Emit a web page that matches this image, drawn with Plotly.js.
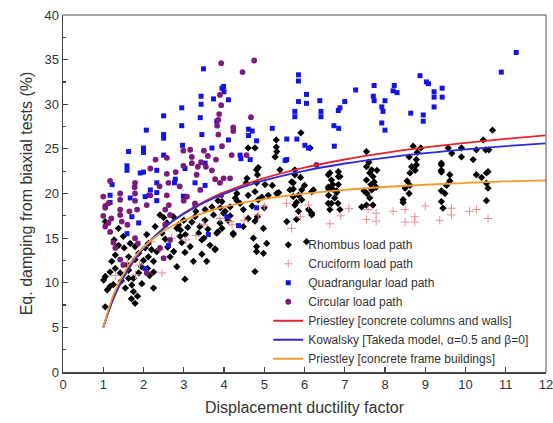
<!DOCTYPE html>
<html>
<head>
<meta charset="utf-8">
<script src="https://cdn.plot.ly/plotly-3.0.1.min.js"></script>
<style>html,body{margin:0;padding:0;background:#fff;}#chart{width:553px;height:423px;}</style>
</head>
<body>
<div id="chart"></div>
<script>
// Rhombus load path (black diamonds): ductility, damping (%)
const rhombusX = [1.05,1.38,2.41,2.58,2.29,2.08,2.12,2.04,2.2,2.33,2.12,2.25,2.25,2.25,1.88,1.79,1.63,1.52,1.38,1.27,1.3,1.21,1.3,1.42,1.01,1.17,1.63,1.63,1.71,1.75,1.79,1.05,1.88,1.96,1.75,2.83,3.03,3.24,3.57,3.78,2.87,2.92,2.91,3.04,3.16,3.03,3.37,3.45,3.53,3.74,3.9,3.53,3.28,2.83,2.74,2.46,2.54,2.66,1.79,1.67,1.5,1.6,1.17,1.05,
1.1,1.25,1.45,1.55,1.85,1.7,2.0,2.1,2.15,1.95,2.6,2.75,2.95,3.1,3.2,3.4,3.6,3.0,2.5,3.7,3.85,3.3,3.65,3.45,
4.81,4.83,4.57,4.55,4.81,4.77,5.02,5.31,5.1,4.94,4.85,4.32,4.28,4.4,3.95,3.91,4.03,4.48,4.6,4.83,4.98,4.23,3.95,3.85,4.73,4.81,4.81,4.77,3.78,4.98,5.06,4.77,3.82,3.5,4.23,4.48,4.15,3.99,4.15,4.32,4.77,4.6,4.85,4.1,4.6,4.7,5.0,5.2,5.36,5.27,5.3,5.3,5.31,5.39,
5.64,5.72,5.72,5.76,5.85,6.18,6.1,5.56,6.05,5.76,5.76,6.22,5.91,6.14,5.68,5.72,5.93,6.18,5.85,5.93,5.8,6.18,5.9,6.0,5.8,
6.59,6.6,6.6,6.63,6.7,6.67,6.63,6.67,6.59,6.7,6.8,6.59,6.83,6.88,6.84,6.8,6.88,6.75,6.84,6.84,
7.54,7.54,7.62,7.7,7.54,7.65,7.78,7.55,7.62,7.54,7.7,7.67,7.73,7.67,7.42,7.48,7.8,7.6,
8.7,8.89,8.6,8.78,8.78,8.62,8.55,8.62,8.6,8.45,8.66,8.5,8.45,8.75,8.8,
9.57,9.66,9.9,9.9,9.4,9.4,9.61,9.61,9.53,9.49,9.4,9.4,9.44,9.4,9.4,
10.19,10.27,10.44,10.67,10.5,10.58,10.27,10.52,10.52,10.52,10.56,10.56,10.4];
const rhombusY = [16.85,16.1,17.6,16.7,16.3,15.4,14.4,13.9,13.7,13.5,12.9,12.4,11.2,9.4,13.3,12.6,12.9,13.9,14.2,14.8,13.1,12.4,11.6,11.1,10.3,9.6,11.4,10.5,9.75,9.0,7.7,7.3,11.1,9.9,10.5,11.8,10.4,12.4,12.4,13.7,16.5,15.9,15.2,15.4,14.05,13.4,15.55,14.8,17.0,17.6,16.7,18.2,17.4,16.1,17.4,15.55,14.9,12.9,14.05,14.4,15.2,12.0,11.2,10.7,
9.2,9.8,10.2,9.4,8.5,8.2,12.5,11.6,10.8,11.8,14.0,13.5,14.5,16.2,16.8,16.3,16.0,17.0,17.3,18.5,19.2,18.0,14.2,13.2,
22.65,22.1,21.7,21.2,21.2,20.2,21.0,20.0,19.8,19.6,19.3,20.0,19.5,18.9,19.1,18.4,18.0,18.2,17.2,17.4,16.1,15.4,16.1,15.7,15.0,14.05,13.5,11.25,13.8,13.3,14.4,16.9,15.55,15.0,15.55,16.3,17.5,17.8,18.5,19.2,25.1,25.1,22.9,17.0,19.8,18.6,18.4,20.9,20.1,24.1,26.0,25.2,24.7,22.65,
20.4,21.2,19.65,18.7,18.0,17.8,18.2,16.85,14.6,22.65,22.1,20.4,26.8,25.1,21.3,20.5,20.4,20.2,19.8,19.3,17.1,17.6,21.8,20.9,19.0,
22.1,20.5,19.8,18.2,21.0,18.9,22.3,21.5,20.7,20.5,20.1,18.9,18.9,21.9,21.0,20.3,18.2,19.5,22.45,21.9,
24.7,23.0,22.3,21.9,21.5,21.0,20.7,20.0,19.5,18.7,18.7,22.65,21.3,20.4,18.5,20.3,22.6,23.5,
25.3,25.1,24.1,23.8,23.2,22.3,21.4,20.9,20.0,19.3,23.0,20.6,19.0,22.6,24.6,
25.1,24.5,25.1,24.1,23.2,22.4,22.1,21.4,20.9,20.0,19.1,20.3,18.35,23.4,22.6,
23.8,24.9,26.0,27.1,24.9,24.9,22.1,22.3,21.15,19.2,22.45,20.6,21.8];

// Cruciform load path (pink crosses)
const cruciformX = [7.58,7.78,7.54,7.78,8.5,8.5,8.74,8.74,9.36,9.65,9.65,10.27,10.56,6.63,5.68,4.85,4.15,2.41,3.3,4.2,3.05,2.46,1.6,1.9,2.2,2.7,3.5,3.9,4.5,5.0,5.55,5.9,6.1,6.9,7.1,8.2,9.0,10.1,1.3,1.8];
const cruciformY = [18.2,17.8,17.1,16.9,18.2,16.8,17.4,16.8,17.0,18.35,17.6,18.2,17.2,16.6,16.1,17.6,16.85,13.7,15.3,16.5,14.8,11.1,12.3,12.0,14.6,15.0,16.5,17.2,17.0,18.6,18.9,17.4,18.7,17.5,18.3,18.0,18.6,18.0,10.8,10.9];

// Quadrangular load path (blue squares)
const quadX = [3.49,3.95,3.74,3.43,3.43,2.95,3.41,2.5,2.95,2.07,2.5,2.5,3.45,2.97,3.7,1.63,2.0,2.0,2.5,1.59,1.59,1.92,2.0,2.33,2.79,2.77,2.33,3.03,3.28,3.53,3.53,1.22,1.17,2.17,2.14,1.67,2.33,2.99,3.28,2.33,1.17,2.04,1.71,1.88,1.59,3.61,2.62,2.04,
3.99,4.0,4.11,3.82,4.61,4.7,4.61,4.81,5.2,5.56,5.81,4.11,5.85,5.85,6.05,5.85,6.05,5.76,5.76,6.38,6.41,6.41,6.88,6.84,7.0,6.73,6.85,6.74,6.01,6.1,5.56,4.4,4.42,4.65,5.52,4.81,4.07,4.36,
8.87,9.03,9.08,7.27,7.73,8.23,8.2,8.3,7.71,7.73,8.0,7.92,7.95,9.22,9.42,9.22,9.42,9.22,8.64,8.95,8.95,7.92,8.0,11.26,10.89];
const quadY = [33.97,31.8,30.6,30.9,30.0,29.6,28.5,28.7,27.6,27.1,26.6,26.2,26.6,25.4,25.1,24.7,25.1,24.6,24.3,23.1,22.6,22.3,22.4,22.6,21.6,21.2,21.2,22.8,21.2,23.4,20.9,21.0,19.8,20.4,19.8,19.5,20.1,19.7,18.7,19.2,19.0,19.65,17.4,16.7,15.5,15.4,14.2,11.6,
32.0,31.4,30.5,28.1,27.2,27.0,26.5,25.9,27.3,26.1,26.1,26.0,33.3,32.6,31.1,30.3,30.1,29.2,28.6,30.4,29.2,28.6,29.6,29.3,30.3,27.6,27.3,25.3,25.4,25.1,23.8,24.3,23.9,23.8,23.7,18.4,17.4,16.4,
33.2,32.5,32.3,31.6,32.1,32.1,31.5,31.3,30.9,30.4,30.4,29.7,29.2,31.4,31.8,30.8,30.8,29.7,29.0,28.8,28.1,27.9,27.1,35.8,33.6];

// Circular load path (purple circles)
const circX = [3.93,3.9,3.93,3.86,3.83,3.86,3.95,3.8,3.16,3.2,2.99,3.2,2.99,3.43,3.35,3.55,3.32,2.17,2.58,2.58,2.62,3.78,1.17,1.79,1.78,1.79,2.17,2.58,3.08,3.41,3.93,1.42,1.42,1.05,1.79,2.08,2.63,3.0,
1.0,1.13,1.42,1.42,1.46,1.13,1.17,1.84,2.54,2.66,2.54,1.79,1.86,1.3,1.42,1.5,2.08,2.5,3.28,2.66,2.41,
4.75,4.46,3.88,4.67,4.23,4.23,4.19,4.56,6.3,3.99,3.9,4.15,
1.05,1.0,1.05,1.2,1.25,1.6,1.65,2.3,2.4,2.8,3.6,3.5,2.9,3.7];
const circY = [34.6,31.05,29.9,28.25,27.6,26.6,25.3,23.8,24.9,24.1,24.8,23.4,23.1,23.5,23.0,23.0,22.1,22.8,24.0,22.2,21.2,21.6,21.4,21.2,20.7,20.0,19.8,19.8,19.65,20.4,19.8,20.0,19.3,18.6,19.2,18.7,18.7,19.2,
19.65,18.9,18.2,17.6,16.85,16.7,15.7,18.2,18.2,17.6,16.5,15.0,14.4,13.9,12.6,12.0,11.1,12.75,18.9,14.8,13.9,
34.9,33.6,28.9,28.55,27.4,27.0,24.3,24.3,23.2,21.7,21.2,21.7,
18.4,17.5,16.3,17.2,14.5,16.5,18.0,23.8,20.8,22.4,24.2,24.8,20.8,22.6];

// Model curves
const curveMu = [1,1.25,1.5,1.75,2,2.5,3,3.5,4,5,6,7,8,9,10,11,12];
const priestleyWalls = [5,8.19,10.55,12.38,13.86,16.11,17.78,19.08,20.12,21.72,22.9,23.81,24.55,25.16,25.68,26.12,26.51];
const kowalsky = [5,8.22,10.58,12.41,13.87,16.1,17.72,18.97,19.96,21.46,22.54,23.36,24.0,24.52,24.95,25.31,25.62];
const priestleyFrames = [5,8.6,10.99,12.71,13.99,15.79,16.99,17.84,18.49,19.38,19.98,20.41,20.73,20.98,21.18,21.35,21.48];

const seriesNames = ['Rhombus load path','Cruciform load path','Quadrangular load path','Circular load path',
  'Priestley [concrete columns and walls]','Kowalsky [Takeda model, \u03b1=0.5 and \u03b2=0]','Priestley [concrete frame buildings]'];

const traces = [
  {x: rhombusX, y: rhombusY, name: seriesNames[0], type: 'scatter', mode: 'markers',
   marker: {symbol: 'diamond', size: 5.6, color: '#000000'}},
  {x: cruciformX, y: cruciformY, name: seriesNames[1], type: 'scatter', mode: 'markers',
   marker: {symbol: 'cross-thin', size: 6, color: '#f08a94', line: {color: '#f08a94', width: 1}}},
  {x: quadX, y: quadY, name: seriesNames[2], type: 'scatter', mode: 'markers',
   marker: {symbol: 'square', size: 5, color: '#1414e6'}},
  {x: circX, y: circY, name: seriesNames[3], type: 'scatter', mode: 'markers',
   marker: {symbol: 'circle', size: 5.8, color: '#7d1a7d'}},
  {x: curveMu, y: priestleyWalls, name: seriesNames[4], type: 'scatter', mode: 'lines',
   line: {color: '#e3262e', width: 1.8, shape: 'spline'}},
  {x: curveMu, y: kowalsky, name: seriesNames[5], type: 'scatter', mode: 'lines',
   line: {color: '#2a2ad6', width: 1.8, shape: 'spline'}},
  {x: curveMu, y: priestleyFrames, name: seriesNames[6], type: 'scatter', mode: 'lines',
   line: {color: '#f39a2c', width: 1.8, shape: 'spline'}}
];

const fontFam = 'Liberation Sans, Arial, sans-serif';
const layout = {
  width: 553, height: 423,
  margin: {l: 63, r: 7, t: 15, b: 51},
  paper_bgcolor: '#ffffff', plot_bgcolor: '#ffffff',
  font: {family: fontFam, color: '#333333', size: 13},
  showlegend: true,
  legend: {x: 0.425, y: 0.397, xanchor: 'left', yanchor: 'top', bgcolor: 'rgba(0,0,0,0)',
           font: {family: fontFam, size: 12, color: '#333333'}, tracegroupgap: 0, itemwidth: 30},
  xaxis: {range: [0, 12.0001], dtick: 1, tick0: 0, showgrid: false, zeroline: false,
          showline: true, linecolor: '#444444', linewidth: 1.5,
          ticks: 'inside', ticklen: 5, tickwidth: 1.2, tickcolor: '#444444',
          ticklabeloverflow: 'allow',
          tickfont: {size: 13, color: '#333333'},
          title: {text: 'Displacement ductility factor', font: {size: 16, color: '#333333'}, standoff: 10}},
  yaxis: {range: [0, 40], dtick: 5, tick0: 0, showgrid: false, zeroline: false,
          showline: true, linecolor: '#444444', linewidth: 1.5,
          ticks: 'inside', ticklen: 5, tickwidth: 1.2, tickcolor: '#444444',
          ticklabeloverflow: 'allow',
          tickfont: {size: 13, color: '#333333'},
          minor: {dtick: 2.5, ticks: 'inside', ticklen: 3, tickcolor: '#444444', showgrid: false},
          title: {text: 'Eq. damping from biaxial tests (%)', font: {size: 16, color: '#333333'}, standoff: 8}},
  shapes: [
    {type: 'line', xref: 'paper', yref: 'paper', x0: 0, x1: 1, y0: 1, y1: 1, line: {color: '#8a8a8a', width: 1.5}},
    {type: 'line', xref: 'paper', yref: 'paper', x0: 1, x1: 1, y0: 0, y1: 1, line: {color: '#8a8a8a', width: 1.5}}
  ]
};

Plotly.newPlot('chart', traces, layout, {displayModeBar: false, staticPlot: true});
</script>
</body>
</html>
